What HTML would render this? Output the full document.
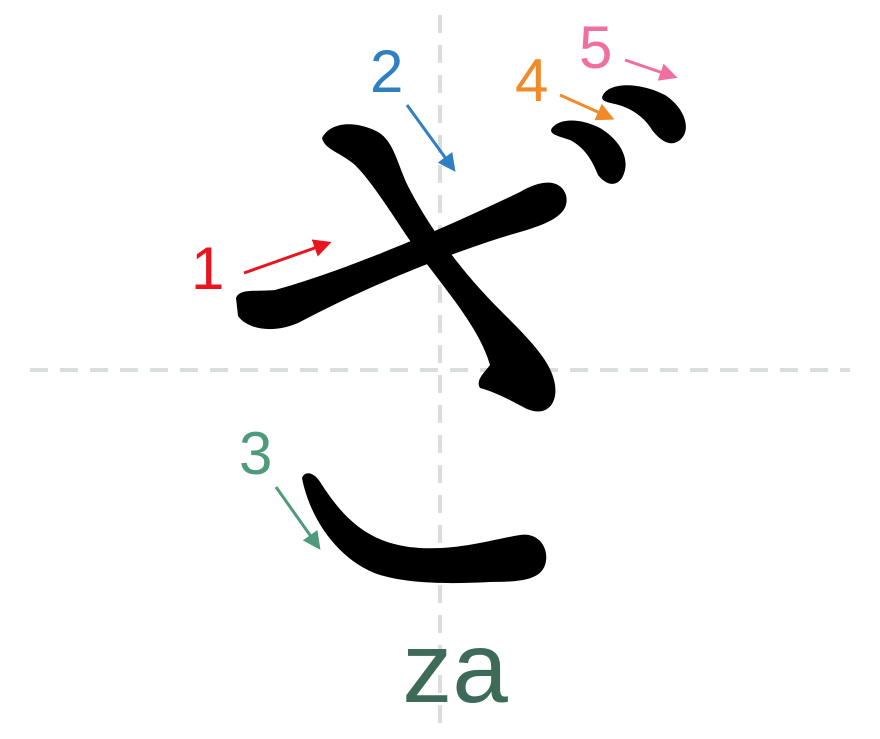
<!DOCTYPE html>
<html><head><meta charset="utf-8"><style>html,body{margin:0;padding:0;background:#fff;}svg{display:block}</style></head>
<body>
<svg width="880" height="739" viewBox="0 0 880 739" xmlns="http://www.w3.org/2000/svg">
<defs>
<marker id="ar" markerWidth="6" markerHeight="6" refX="4" refY="3" orient="auto" markerUnits="strokeWidth"><path d="M0,0 L6,3 L0,6 z" fill="context-stroke"/></marker>
</defs>
<g stroke="#d9dddc" stroke-width="4" stroke-dasharray="18,12">
<line x1="440" y1="15" x2="440" y2="725"/>
<line x1="30" y1="370" x2="850" y2="370"/>
</g>
<g fill="#000">
<path d="M236,298 C240,288 255,292 275,290 C330,275 420,240 520,192 C540,180 560,178 566,195 C570,212 555,222 520,232 C450,252 360,290 300,322 C275,334 248,330 238,316 Z"/>
<path d="M322,138 C330,122 355,120 378,132 C395,142 398,168 410,190 C430,228 460,270 500,310 C530,340 552,362 555,385 C558,405 545,418 525,408 C510,400 495,392 480,388 C475,380 485,372 490,365 C480,330 450,295 420,255 C395,220 375,185 355,165 C340,152 325,150 322,138 Z"/>
<path d="M302,478 C305,470 315,472 322,485 C345,520 370,545 420,548 C460,550 490,540 520,535 C540,532 550,550 545,565 C540,580 520,582 490,582 C450,584 410,584 380,575 C340,562 310,520 302,478 Z"/>
<path d="M552,128 C560,118 580,118 600,128 C620,140 632,160 622,178 C615,188 605,184 598,175 C592,160 585,148 570,140 C558,136 548,134 552,128 Z"/>
<path d="M603,95 C610,82 640,82 665,95 C685,108 692,130 680,140 C670,148 660,140 652,130 C645,118 632,108 615,104 C605,102 600,100 603,95 Z"/>
</g>
<g stroke-width="3" fill="none" marker-end="url(#ar)">
<line x1="244" y1="273" x2="326" y2="244" stroke="#e8141e"/>
<line x1="407" y1="105" x2="452" y2="167" stroke="#2f7fc1"/>
<line x1="276" y1="487" x2="317" y2="545" stroke="#4f9a7a"/>
<line x1="560" y1="95" x2="609" y2="117" stroke="#f08a2a"/>
<line x1="625" y1="60" x2="672" y2="76" stroke="#ef6fa0"/>
</g>
<g font-family="Liberation Sans, sans-serif" font-size="60">
<text x="191" y="289" fill="#e8141e">1</text>
<text x="370" y="92" fill="#2f7fc1">2</text>
<text x="239" y="474" fill="#4f9a7a">3</text>
<text x="515" y="101" fill="#f08a2a">4</text>
<text x="579" y="68" fill="#ef6fa0">5</text>
</g>
<text x="455" y="702" font-family="Liberation Sans, sans-serif" font-size="100" fill="#3d6b57" text-anchor="middle">za</text>
</svg>
</body></html>
